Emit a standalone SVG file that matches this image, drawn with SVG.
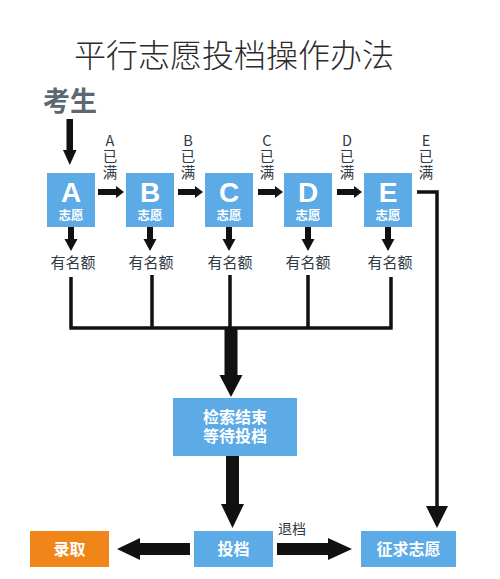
<svg xmlns="http://www.w3.org/2000/svg" width="500" height="579" viewBox="0 0 500 579">
<style>
  .box { fill: #5caae6; }
  .orange { fill: #f0861a; }
  .wt { fill: #ffffff; font-family: "Liberation Sans", "Noto Sans CJK SC", sans-serif; font-weight: bold; text-anchor: middle; }
  .letter { font-size: 28px; }
  .sub { font-size: 12.5px; }
  .big { font-size: 16px; }
  .lbl { fill: #2f3a44; font-family: "Noto Sans CJK SC", "Noto Sans", sans-serif; font-size: 15px; text-anchor: middle; }
  .vt { fill: #2f3a44; font-family: "Noto Sans CJK SC", "Noto Sans", sans-serif; font-size: 14.5px; writing-mode: vertical-rl; text-orientation: upright; letter-spacing: 1.5px; }
  .ln { fill: none; stroke: #111; stroke-width: 3.5; }
  .ar { fill: #111; }
</style>
<rect width="500" height="579" fill="#ffffff"/>
<text id="title" x="234" y="67" font-family="'Noto Sans CJK SC', sans-serif" font-size="32" font-weight="300" fill="#2b2b2b" text-anchor="middle">平行志愿投档操作办法</text>

<g id="kaosheng"><text x="70" y="111" font-family="'Noto Sans CJK SC', sans-serif" font-size="27" font-weight="bold" fill="#5d6771" text-anchor="middle">考生</text></g>

<g id="nodeA"><rect class="box" x="47" y="173" width="48" height="54"/><text class="wt letter" x="71" y="202">A</text><text class="wt sub" x="71" y="220">志愿</text></g>
<g id="nodeB"><rect class="box" x="126" y="173" width="48" height="54"/><text class="wt letter" x="150" y="202">B</text><text class="wt sub" x="150" y="220">志愿</text></g>
<g id="nodeC"><rect class="box" x="205" y="173" width="48" height="54"/><text class="wt letter" x="229" y="202">C</text><text class="wt sub" x="229" y="220">志愿</text></g>
<g id="nodeD"><rect class="box" x="284" y="173" width="48" height="54"/><text class="wt letter" x="308" y="202">D</text><text class="wt sub" x="308" y="220">志愿</text></g>
<g id="nodeE"><rect class="box" x="364" y="173" width="48" height="54"/><text class="wt letter" x="388" y="202">E</text><text class="wt sub" x="388" y="220">志愿</text></g>

<g id="quotaA"><text class="lbl" x="73" y="268">有名额</text></g>
<g id="quotaB"><text class="lbl" x="151" y="268">有名额</text></g>
<g id="quotaC"><text class="lbl" x="230" y="268">有名额</text></g>
<g id="quotaD"><text class="lbl" x="308" y="268">有名额</text></g>
<g id="quotaE"><text class="lbl" x="390" y="268">有名额</text></g>

<g id="search"><rect class="box" x="173" y="398" width="124" height="58"/><text class="wt big" x="235" y="423">检索结束</text><text class="wt big" x="235" y="441.5">等待投档</text></g>
<g id="toudang"><rect class="box" x="194" y="531" width="79" height="36"/><text class="wt big" x="233.5" y="555">投档</text></g>
<g id="luqu"><rect class="orange" x="30" y="531" width="79" height="36"/><text class="wt big" x="69.5" y="555">录取</text></g>
<g id="zhengqiu"><rect class="box" x="361" y="531" width="95" height="36"/><text class="wt big" x="408.5" y="555">征求志愿</text></g>

<g id="connectors">
  <rect class="ar" x="66.5" y="119" width="6.5" height="33"/>
  <polygon class="ar" points="63,150 76.5,150 69.8,165"/>

  <rect class="ar" x="98" y="189" width="18" height="6"/><polygon class="ar" points="116,186 116,198 124,192"/>
  <rect class="ar" x="178" y="189" width="17" height="6"/><polygon class="ar" points="195,186 195,198 203,192"/>
  <rect class="ar" x="258" y="189" width="17" height="6"/><polygon class="ar" points="275,186 275,198 283,192"/>
  <rect class="ar" x="337" y="189" width="17" height="6"/><polygon class="ar" points="354,186 354,198 362,192"/>

  <rect class="ar" x="68" y="227" width="6" height="13"/><polygon class="ar" points="64.5,239 77.5,239 71,251"/>
  <rect class="ar" x="147" y="227" width="6" height="13"/><polygon class="ar" points="143.5,239 156.5,239 150,251"/>
  <rect class="ar" x="226" y="227" width="6" height="13"/><polygon class="ar" points="222.5,239 235.5,239 229,251"/>
  <rect class="ar" x="305" y="227" width="6" height="13"/><polygon class="ar" points="301.5,239 314.5,239 308,251"/>
  <rect class="ar" x="385" y="227" width="6" height="13"/><polygon class="ar" points="381.5,239 394.5,239 388,251"/>

  <path class="ln" d="M71,277 V328 M152,275 V328 M230,275 V328 M308,275 V328 M391,277 V328 M69.3,328 H392.7"/>
  <rect class="ar" x="224.5" y="327" width="13" height="49"/>
  <polygon class="ar" points="219.5,375 242.5,375 231,397"/>

  <rect class="ar" x="226" y="456" width="13" height="49"/>
  <polygon class="ar" points="221,504 244,504 232.5,528"/>

  <rect class="ar" x="139" y="543" width="51" height="12"/>
  <polygon class="ar" points="140,538 140,560 117,549"/>
  <rect class="ar" x="277" y="543" width="52" height="12"/>
  <polygon class="ar" points="328,538 328,560 352,549"/>

  <path class="ln" d="M417,192 H437 V508"/>
  <polygon class="ar" points="426,506 448,506 437,528"/>
</g>

<g id="labels">
  <text class="vt" x="110" y="133">A已满</text>
  <text class="vt" x="188" y="133">B已满</text>
  <text class="vt" x="267" y="133">C已满</text>
  <text class="vt" x="347" y="133">D已满</text>
  <text class="vt" x="426" y="133">E已满</text>
  <text x="292" y="534" font-family="'Noto Sans CJK SC', sans-serif" font-size="14" fill="#2f3a44" text-anchor="middle">退档</text>
</g>
</svg>
